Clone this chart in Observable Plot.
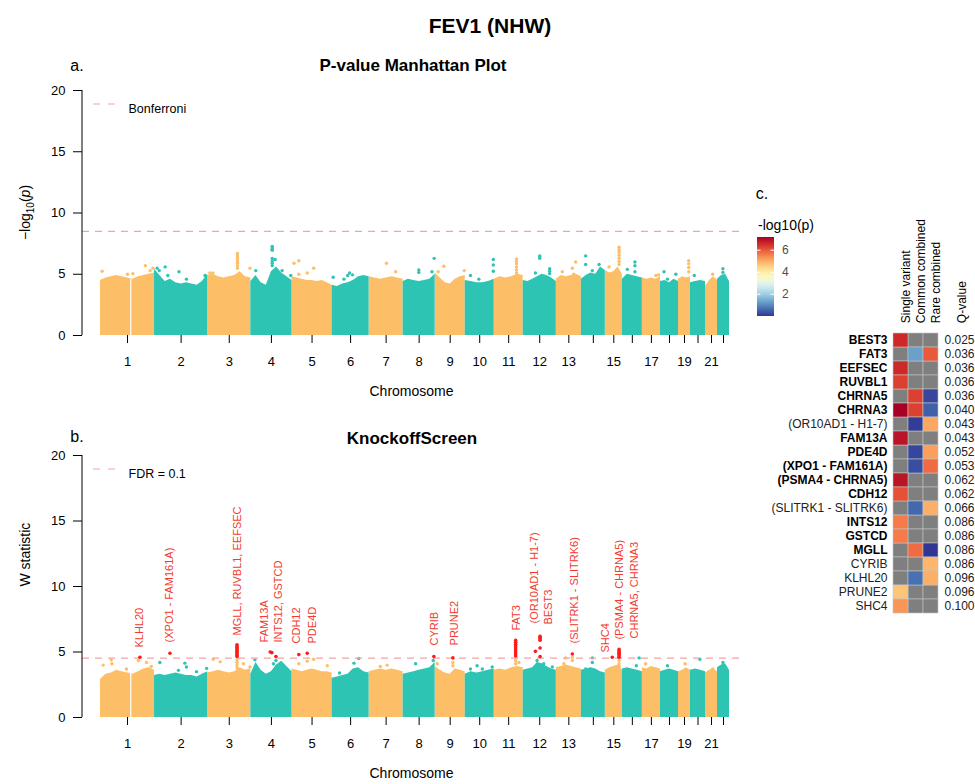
<!DOCTYPE html>
<html><head><meta charset="utf-8">
<script src="https://cdn.jsdelivr.net/npm/d3@7"></script>
<script src="https://cdn.jsdelivr.net/npm/@observablehq/plot@0.6"></script>
<style>
body{margin:0;background:#fff;}
#root{position:relative;width:975px;height:784px;overflow:hidden;font-family:"Liberation Sans",Arial,sans-serif;color:#000}
.lbl{position:absolute;transform:translate(-50%,-50%);white-space:nowrap;line-height:1}
.box{position:absolute}
</style></head><body><div id="root"></div>
<script>
// ---------------- DATA ----------------
const chromosomes = [1,2,3,4,5,6,7,8,9,10,11,12,13,14,15,16,17,18,19,20,21,22];
const chromLengthMb = [248,244,198,189,184,170,156,147,138,133,133,152,115,110,78,92,83,83,55,69,55,55];
const chromTickLabels = ["1","2","3","4","5","6","7","8","9","10","11","12","13","","15","","17","","19","","21",""];

// Panel a: upper envelope of -log10(p), read at evenly spaced points along each chromosome
const envA = [
  [4.5,4.7,4.8,4.9,4.8,4.7,4.6,4.8,4.9,5.0,5.1],
  [5.4,4.9,4.4,4.6,4.3,4.2,4.3,4.2,4.1,4.4,5.0],
  [4.9,5.0,4.8,4.7,4.8,4.9,5.2,4.8,4.7],
  [4.4,4.9,4.3,4.1,5.2,5.6,5.1,4.8,4.5],
  [4.8,4.7,4.6,4.5,4.5,4.4,4.5,4.3,4.1],
  [4.1,4.0,4.2,4.3,4.5,4.8,4.9,4.8],
  [4.8,4.7,4.6,4.7,4.8,4.7,4.6],
  [4.4,4.6,4.5,4.4,4.5,4.6,5.0],
  [5.1,4.7,4.3,4.2,4.6,4.8,4.9],
  [4.5,4.4,4.3,4.3,4.4,4.6],
  [4.6,4.8,4.7,4.8,5.0,4.9],
  [4.5,4.4,4.6,4.8,5.0,4.9,4.7,4.4],
  [4.6,4.9,4.8,4.9,5.0,4.8],
  [4.6,4.9,5.1,5.0,5.6,5.3],
  [5.3,5.1,5.2,5.6,5.0],
  [4.6,5.0,4.9,4.8,4.7],
  [4.7,4.6,4.7,4.6,4.8],
  [4.4,4.5,4.3,4.6,4.4],
  [4.6,4.8,4.7,4.8],
  [4.3,4.4,4.5,4.4],
  [4.0,4.5,4.8,4.5],
  [4.6,4.9,5.0,4.4]
];
// Panel a: individual SNPs above the bulk [chromosome, fraction along chromosome, -log10(p)]
const peaksA = [
  [1,0.03,5.25],[1,0.5,5.0],[1,0.6,5.05],[1,0.83,5.7],[1,0.97,5.5],[1,0.92,5.3],
  [2,0.05,5.5],[2,0.09,5.3],[2,0.2,5.6],[2,0.25,4.9],[2,0.46,5.2],[2,0.6,4.6],[2,0.95,4.9],
  [3,0.69,6.7],[3,0.69,6.5],[3,0.69,6.3],[3,0.69,6.1],[3,0.69,5.9],[3,0.69,5.7],[3,0.69,5.5],
  [3,0.05,5.1],[3,0.12,5.1],[3,0.98,5.5],
  [4,0.52,7.27],[4,0.52,7.15],[4,0.52,7.05],[4,0.52,6.95],[4,0.52,6.3],[4,0.52,6.1],[4,0.52,5.9],[4,0.52,5.7],
  [4,0.59,6.2],[4,0.12,5.3],[4,0.76,5.3],[4,0.97,4.9],
  [5,0.05,5.9],[5,0.17,6.1],[5,0.17,5.0],[5,0.38,5.1],[5,0.54,5.5],
  [6,0.03,4.75],[6,0.32,4.6],[6,0.42,4.9],[6,0.47,5.1],[6,0.55,4.95],
  [7,0.51,5.9],[7,0.78,5.2],
  [8,0.49,5.35],[8,0.49,5.15],[8,0.97,6.3],[8,0.9,5.2],
  [9,0.29,5.65],[9,0.97,5.3],[9,0.1,5.2],
  [10,0.18,4.9],[10,0.47,4.6],[10,0.97,6.2],[10,0.97,5.75],[10,0.97,5.25],
  [11,0.77,6.25],[11,0.77,6.05],[11,0.77,5.85],[11,0.77,5.6],[11,0.77,5.35],[11,0.77,5.1],
  [12,0.5,6.5],[12,0.5,6.4],[12,0.5,6.3],[12,0.37,5.1],[12,0.8,5.45],[12,0.8,5.25],[12,0.8,5.05],
  [13,0.77,6.0],[13,0.64,5.5],[13,0.24,5.2],[13,0.7,5.0],
  [14,0.18,6.5],[14,0.18,5.8],[14,0.46,5.3],[14,0.74,5.8],
  [15,0.81,7.2],[15,0.81,7.0],[15,0.81,6.8],[15,0.81,6.55],[15,0.81,6.3],[15,0.81,6.05],[15,0.81,5.8],
  [15,0.22,5.6],[15,0.3,5.0],
  [16,0.25,5.4],[16,0.63,6.0],[16,0.63,5.7],[16,0.63,5.2],
  [17,0.9,4.95],[17,0.75,4.9],
  [18,0.2,5.2],[18,0.39,4.6],[18,0.85,5.0],
  [19,0.85,6.1],[19,0.85,5.85],[19,0.85,5.55],[19,0.85,5.2],
  [20,0.25,4.9],
  [21,0.6,5.0],
  [22,0.45,5.45],[22,0.45,5.15]
];
const gapsA = [[1,0.56,4.6]];
const bonferroni = 8.5;

// Panel b: upper envelope of W statistic
const envB = [
  [2.9,3.3,3.4,3.6,3.5,3.4,3.3,3.5,3.7,3.8,3.6],
  [3.2,3.3,3.2,3.3,3.4,3.3,3.2,3.2,3.1,3.3,3.5],
  [3.4,3.5,3.6,3.5,3.4,3.5,3.8,3.6,3.7],
  [3.3,4.2,3.6,3.3,3.5,4.0,4.3,3.9,3.5],
  [3.7,3.6,3.5,3.6,3.7,3.6,3.5,3.5,3.4],
  [3.0,3.1,3.2,3.3,3.7,3.8,3.5,3.4],
  [3.5,3.6,3.7,3.6,3.7,3.6,3.5],
  [3.3,3.4,3.5,3.6,3.7,3.8,4.2],
  [3.9,3.6,3.4,3.3,3.7,3.6,3.5],
  [3.3,3.5,3.4,3.5,3.6,3.7],
  [3.6,3.7,3.6,3.8,3.9,3.8],
  [3.6,3.7,3.8,4.2,4.1,3.9,3.7,3.6],
  [3.8,3.9,4.0,3.9,3.8,3.7],
  [3.6,3.7,3.8,3.7,3.5,3.4],
  [3.6,3.8,3.9,4.0,3.6],
  [3.7,3.8,3.7,3.6,3.5],
  [3.8,3.7,3.9,3.8,3.7],
  [3.5,3.6,3.7,3.6,3.5],
  [3.5,3.6,3.8,3.6],
  [3.6,3.7,3.6,3.5],
  [3.4,3.6,3.7,3.5],
  [3.8,4.0,4.1,3.6]
];
const peaksB = [
  [1,0.05,4.0],[1,0.2,4.4],[1,0.21,4.1],[1,0.48,3.7],[1,0.7,4.35],[1,0.85,4.2],[1,0.94,3.9],
  [2,0.1,4.2],[2,0.45,3.6],[2,0.57,4.15],[2,0.6,3.85],[2,0.79,3.5],[2,0.98,3.75],
  [3,0.13,4.45],[3,0.29,4.25],[3,0.83,4.1],[3,0.98,3.85],[3,0.68,4.4],[3,0.68,4.2],[3,0.68,4.0],[3,0.68,3.8],
  [4,0.1,4.4],[4,0.61,4.35],[4,0.55,4.1],
  [5,0.17,4.1],[5,0.38,4.3],[5,0.54,4.45],[5,0.88,3.95],
  [6,0.72,4.5],[6,0.59,4.15],[6,0.2,3.4],
  [7,0.33,3.9],[7,0.53,4.0],
  [8,0.39,4.1],[8,0.94,4.35],
  [9,0.07,4.1],[9,0.59,4.2],[9,0.59,3.95],
  [10,0.18,3.7],[10,0.41,3.95],[10,0.59,3.7],[10,0.93,3.85],
  [11,0.74,4.35],[11,0.74,4.1],[11,0.85,4.2],
  [12,0.42,4.35],[12,0.62,4.1],[12,0.88,3.85],
  [13,0.37,4.55],[13,0.64,4.6],[13,0.64,4.35],[13,0.3,4.1],
  [14,0.46,4.55],[14,0.18,3.7],[14,0.46,4.2],
  [15,0.81,4.35],[15,0.81,4.1],[15,0.81,3.9],
  [16,0.84,4.55],[16,0.7,3.95],
  [17,0.18,4.1],
  [18,0.39,3.95],
  [19,0.55,4.1],
  [20,0.62,4.45],
  [21,0.6,3.7],
  [22,0.45,4.2]
];
// Panel b: significant (red) SNPs
const hitsB = [
  [1,0.73,4.6],
  [2,0.29,4.9],
  [3,0.68,5.55],[3,0.68,5.45],[3,0.68,5.35],[3,0.68,5.25],[3,0.68,5.15],[3,0.68,5.05],[3,0.68,4.95],[3,0.68,4.85],[3,0.68,4.75],[3,0.68,4.65],
  [4,0.47,5.0],[4,0.51,4.95],[4,0.61,4.65],
  [5,0.17,4.8],[5,0.38,4.9],
  [8,0.96,4.65],
  [9,0.59,4.55],
  [11,0.74,5.9],[11,0.74,5.75],[11,0.74,5.6],[11,0.74,5.45],[11,0.74,5.3],[11,0.74,5.15],[11,0.74,5.0],[11,0.74,4.85],[11,0.74,4.7],
  [12,0.37,5.05],[12,0.51,6.2],[12,0.51,6.1],[12,0.51,6.0],[12,0.51,5.9],[12,0.51,5.3],[12,0.51,4.65],
  [13,0.64,4.85],
  [15,0.41,4.6],
  [15,0.81,5.2],[15,0.81,5.1],[15,0.81,5.0],[15,0.81,4.9],[15,0.81,4.8],[15,0.81,4.7],[15,0.81,4.6]
];
const gapsB = [[1,0.56,3.4]];
const fdrThreshold = 4.53;
// Gene labels [text, chromosome, fraction, W at label foot]
const labelsB = [
  ["KLHL20",1,0.72,5.34],
  ["(XPO1 - FAM161A)",2,0.28,5.73],
  ["MGLL, RUVBL1, EEFSEC",3,0.70,6.26],
  ["FAM13A",4,0.32,5.73],
  ["INTS12, GSTCD",4,0.68,5.73],
  ["CDH12",5,0.12,5.65],
  ["PDE4D",5,0.5,5.65],
  ["CYRIB",8,0.97,5.5],
  ["PRUNE2",9,0.63,5.5],
  ["FAT3",11,0.76,6.64],
  ["(OR10AD1 - H1-7)",12,0.33,7.18],
  ["BEST3",12,0.76,7.1],
  ["(SLITRK1 - SLITRK6)",13,0.72,5.65],
  ["SHC4",15,0.02,4.96],
  ["(PSMA4 - CHRNA5)",15,0.82,5.95],
  ["CHRNA5, CHRNA3",16,0.6,6.03]
];

// Panel c: heatmap
const heatGenes = ["BEST3","FAT3","EEFSEC","RUVBL1","CHRNA5","CHRNA3","(OR10AD1 - H1-7)","FAM13A","PDE4D","(XPO1 - FAM161A)","(PSMA4 - CHRNA5)","CDH12","(SLITRK1 - SLITRK6)","INTS12","GSTCD","MGLL","CYRIB","KLHL20","PRUNE2","SHC4"];
const heatBold = [true,true,true,true,true,true,false,true,true,true,true,true,false,true,true,true,false,false,false,false];
const heatColumns = ["Single variant","Common combined","Rare combined"];
const singleVariant  = [6.6,null,6.6,6.3,null,7.2,null,6.9,null,null,6.9,6.1,null,5.6,5.6,null,null,null,4.7,5.3];
const commonCombined = [null,1.3,null,null,6.3,6.3,0.1,null,0.2,0.3,null,null,0.6,null,null,5.8,null,0.7,null,null];
const rareCombined   = [null,6.0,null,null,0.2,0.5,5.1,null,5.2,5.8,null,null,5.0,null,null,0.02,4.9,5.0,null,null];
const qValues = [0.025,0.036,0.036,0.036,0.036,0.040,0.043,0.043,0.052,0.053,0.062,0.062,0.066,0.086,0.086,0.086,0.086,0.096,0.096,0.100];
const legendTicks = [2,4,6];

// ---------------- DRAW ----------------
const ORANGE = "#FDBE68", TEAL = "#2EC4B4", THR = "#F5A3A3", RED = "#FF1A1A", LABRED = "#F23B2E";
const FONT = "'Liberation Sans', Arial, sans-serif";
const root = document.getElementById("root");

const starts = []; let acc = 0;
chromLengthMb.forEach(l => { starts.push(acc); acc += l; });
const total = acc;
const gpos = (chr, frac) => starts[chr - 1] + frac * chromLengthMb[chr - 1];
const mids = chromLengthMb.map((l, i) => starts[i] + l / 2);
const tickLabel = new Map(mids.map((m, i) => [m, chromTickLabels[i]]));

function envRows(env) {
  const rows = [];
  env.forEach((vals, i) => {
    const n = vals.length;
    vals.forEach((v, j) => rows.push({chr: chromosomes[i], pos: gpos(chromosomes[i], j / (n - 1)), v}));
  });
  return rows;
}
const toPts = arr => arr.map(([c, f, v]) => ({chr: c, pos: gpos(c, f), v}));

function manhattan({env, peaks, gaps, hits, labels, thr, legendText, yLabel, height, marginTop, marginBottom}) {
  const rows = envRows(env);
  const pk = toPts(peaks);
  const marks = [
    Plot.areaY(rows.filter(d => d.chr % 2 === 1), {x: "pos", y: "v", z: "chr", fill: ORANGE}),
    Plot.areaY(rows.filter(d => d.chr % 2 === 0), {x: "pos", y: "v", z: "chr", fill: TEAL}),
    Plot.ruleX(toPts(gaps), {x: "pos", y1: 0, y2: "v", stroke: "#fff", strokeWidth: 1.2}),
    Plot.dot(pk.filter(d => d.chr % 2 === 1), {x: "pos", y: "v", r: 1.7, fill: ORANGE}),
    Plot.dot(pk.filter(d => d.chr % 2 === 0), {x: "pos", y: "v", r: 1.7, fill: TEAL}),
    Plot.ruleY([thr], {stroke: THR, strokeWidth: 1.1, strokeDasharray: "7,6"}),
    Plot.axisY([0, 5, 10, 15, 20], {tickSize: 9, tickPadding: 8, fontSize: 13, label: null}),
    Plot.axisX(mids, {tickSize: 8, tickPadding: 13, fontSize: 13, label: null, tickFormat: d => tickLabel.get(d)}),
    Plot.text(["Chromosome"], {frameAnchor: "bottom", dy: 60, fontSize: 14}),
    Plot.text([legendText], {frameAnchor: "top-left", dx: 46, dy: 14, textAnchor: "start", fontSize: 12.5})
  ];
  if (hits) marks.push(Plot.dot(toPts(hits), {x: "pos", y: "v", r: 1.8, fill: RED}));
  if (labels) marks.push(Plot.text(labels.map(([t, c, f, w]) => ({t, pos: gpos(c, f), w})),
      {x: "pos", y: "w", text: "t", rotate: -90, textAnchor: "start", fill: LABRED, fontSize: 11}));
  if (yLabel) marks.push(Plot.text([yLabel], {frameAnchor: "left", dx: -57, rotate: -90, fontSize: 14}));
  const plot = Plot.plot({
    width: 745, height, marginTop, marginBottom, marginLeft: 82, marginRight: 5,
    x: {domain: [0, total], range: [100, 729]},
    y: {domain: [0, 20]},
    style: {fontFamily: FONT, fontSize: "13px", color: "#000", background: "transparent", overflow: "visible"},
    marks
  });
  const svg = d3.select(plot);
  const yr = plot.scale("y").range;
  svg.append("line").attr("x1", 82).attr("x2", 82).attr("y1", yr[0]).attr("y2", yr[1]).attr("stroke", "#000");
  svg.append("line").attr("x1", 93).attr("x2", 115).attr("y1", marginTop + 14).attr("y2", marginTop + 14)
    .attr("stroke", THR).attr("stroke-width", 1.1).attr("stroke-dasharray", "7,8");
  return plot;
}

// Panel a
const plotA = manhattan({env: envA, peaks: peaksA, gaps: gapsA, thr: bonferroni, legendText: "Bonferroni",
  height: 410, marginTop: 90, marginBottom: 75});
{
  const svg = d3.select(plotA);
  const yr = plotA.scale("y").range;
  const t = svg.append("text").attr("transform", `translate(25,${(yr[0] + yr[1]) / 2}) rotate(-90)`)
    .attr("text-anchor", "middle").attr("font-size", 14).attr("dy", "0.35em").attr("fill", "#000");
  t.append("tspan").text("\u2212log");
  t.append("tspan").attr("font-size", 10).attr("dy", 4).text("10");
  t.append("tspan").attr("dy", -4).text("(");
  t.append("tspan").attr("font-style", "italic").text("p");
  t.append("tspan").text(")");
}
const boxA = document.createElement("div"); boxA.className = "box"; boxA.style.left = "0px"; boxA.style.top = "0px";
boxA.appendChild(plotA); root.appendChild(boxA);

// Panel b
const plotB = manhattan({env: envB, peaks: peaksB, gaps: gapsB, hits: hitsB, labels: labelsB, thr: fdrThreshold,
  legendText: "FDR = 0.1", yLabel: "W statistic", height: 374, marginTop: 45, marginBottom: 67});
const boxB = document.createElement("div"); boxB.className = "box"; boxB.style.left = "0px"; boxB.style.top = "410px";
boxB.appendChild(plotB); root.appendChild(boxB);

// Panel c
const cells = [];
const colArrays = [singleVariant, commonCombined, rareCombined];
heatGenes.forEach((g, i) => colArrays.forEach((arr, j) => cells.push({gene: g, col: heatColumns[j], v: arr[i]})));
const vals = cells.filter(d => d.v != null).map(d => d.v);
const heat = Plot.plot({
  width: 230, height: 460, marginLeft: 148, marginRight: 37, marginTop: 156.7, marginBottom: 10,
  x: {domain: heatColumns, axis: null, padding: 0},
  y: {domain: heatGenes, axis: null, padding: 0},
  color: {type: "linear", scheme: "RdYlBu", reverse: true, domain: d3.extent(vals)},
  style: {fontFamily: FONT, fontSize: "12px", color: "#000", background: "transparent", overflow: "visible"},
  marks: [
    Plot.cell(cells.filter(d => d.v == null), {x: "col", y: "gene", fill: "#7F7F7F", stroke: "#C4C4C4", strokeWidth: 0.6}),
    Plot.cell(cells.filter(d => d.v != null), {x: "col", y: "gene", fill: "v", stroke: "#C4C4C4", strokeWidth: 0.6}),
    Plot.text(heatColumns, {x: d => d, frameAnchor: "top", dy: -4, rotate: -90, textAnchor: "start", fontSize: 12}),
    Plot.text(["Q-value"], {frameAnchor: "top-right", dx: 19, dy: -4, rotate: -90, textAnchor: "start", fontSize: 12}),
    Plot.text(heatGenes.filter((g, i) => heatBold[i]), {y: d => d, frameAnchor: "left", dx: -6, textAnchor: "end", fontWeight: "bold", fontSize: 12}),
    Plot.text(heatGenes.filter((g, i) => !heatBold[i]), {y: d => d, frameAnchor: "left", dx: -6, textAnchor: "end", fill: "#222", fontSize: 12}),
    Plot.text(heatGenes, {y: d => d, text: (d, i) => qValues[i].toFixed(3), frameAnchor: "right", dx: 6, textAnchor: "start", fill: "#222", fontSize: 12})
  ]
});
{
  const svg = d3.select(heat);
  const cscale = Plot.scale({color: heat.scale("color")});
  const [lo, hi] = heat.scale("color").domain;
  const bx = 12, by = 67, bw = 17, bh = 79;
  const grad = svg.append("defs").append("linearGradient").attr("id", "cbar")
    .attr("x1", 0).attr("y1", 1).attr("x2", 0).attr("y2", 0);
  for (let k = 0; k <= 20; k++) {
    grad.append("stop").attr("offset", k / 20).attr("stop-color", cscale.apply(lo + (hi - lo) * k / 20));
  }
  svg.append("rect").attr("x", bx).attr("y", by).attr("width", bw).attr("height", bh).attr("fill", "url(#cbar)");
  const ly = v => by + bh - (v - lo) / (hi - lo) * bh;
  legendTicks.forEach(v => {
    svg.append("line").attr("x1", bx).attr("x2", bx + 3.5).attr("y1", ly(v)).attr("y2", ly(v)).attr("stroke", "#fff");
    svg.append("line").attr("x1", bx + bw - 3.5).attr("x2", bx + bw).attr("y1", ly(v)).attr("y2", ly(v)).attr("stroke", "#fff");
    svg.append("text").attr("x", bx + bw + 8).attr("y", ly(v)).attr("dy", "0.35em").attr("font-size", 12)
      .attr("text-anchor", "start").attr("fill", "#4D4D4D").text(v);
  });
  svg.append("text").attr("x", 13).attr("y", 55).attr("dy", "0.35em").attr("font-size", 14)
    .attr("text-anchor", "start").text("-log10(p)");
}
const boxC = document.createElement("div"); boxC.className = "box"; boxC.style.left = "745px"; boxC.style.top = "170px";
boxC.appendChild(heat); root.appendChild(boxC);

// Titles
function addLabel(text, x, y, size, bold) {
  const d = document.createElement("div");
  d.className = "lbl"; d.textContent = text;
  d.style.left = x + "px"; d.style.top = y + "px"; d.style.fontSize = size + "px";
  d.style.fontWeight = bold ? "bold" : "normal";
  root.appendChild(d);
}
addLabel("FEV1 (NHW)", 490, 25, 21, true);
addLabel("a.", 77, 66, 16, false);
addLabel("P-value Manhattan Plot", 413, 65, 17, true);
addLabel("b.", 77, 437, 16, false);
addLabel("KnockoffScreen", 412, 438, 17, true);
addLabel("c.", 762, 194, 16, false);
</script></body></html>
